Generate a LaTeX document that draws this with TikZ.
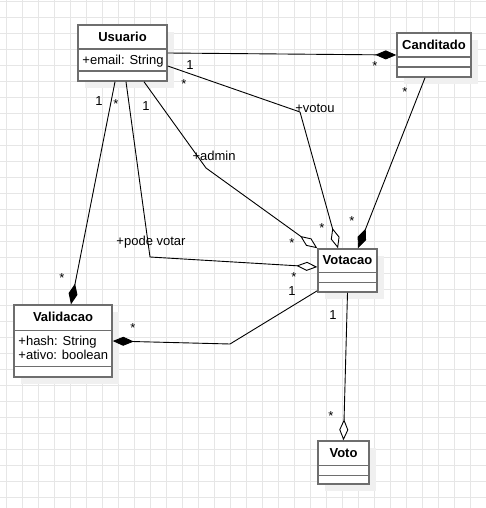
\documentclass[tikz,border=0pt]{standalone}
\usepackage{fontspec}
\setmainfont{Liberation Sans}
\usetikzlibrary{arrows.meta,shadows}
\definecolor{boxgray}{RGB}{110,110,110}
\definecolor{gridgray}{RGB}{230,230,230}
\definecolor{shadowgray}{RGB}{240,240,240}

\begin{document}
\begin{tikzpicture}[
        x=1pt, y=-1pt,
        classbox/.style={
            rectangle,
            draw=boxgray,
            line width=1.5pt,
            fill=white,
            drop shadow={shadow xshift=7pt, shadow yshift=-7pt, fill=shadowgray, opacity=1}
        },
        title/.style={
            font=\fontsize{13}{15}\selectfont\bfseries,
            inner sep=0pt
        },
        attrs/.style={
            font=\fontsize{13}{14.5}\selectfont,
            inner sep=0pt,
            align=left,
            anchor=north west
        },
        sepline/.style={
            draw=boxgray,
            line width=1.5pt
        },
        assoc/.style={
            draw=black,
            line width=0.9pt
        },
        comp/.style={
            assoc,
            -{Diamond[length=21pt,width=9pt,fill=black]}
        },
        aggr/.style={
            assoc,
            -{Diamond[length=21pt,width=9pt,fill=white]}
        },
        mult/.style={
            font=\fontsize{13}{15}\selectfont,
            inner sep=0pt,
            text height=9.3pt,
            text depth=0pt
        },
        many/.style={
            font=\fontsize{13}{15}\selectfont,
            inner sep=0pt,
            text height=9.3pt,
            text depth=-5pt
        },
        role/.style={
            font=\fontsize{13}{15}\selectfont,
            inner sep=0pt
        }
    ]

    % page and background grid
    \useasboundingbox (0,0) rectangle (486,508);
    \fill[white] (0,0) rectangle (486,508);
    \begin{scope}[shift={(6.7,1.3)}]
        \draw[gridgray, line width=0.8pt, step=16pt] (-6.7,506.7) grid (479.3,-1.3);
    \end{scope}

    % classes
    \node[classbox, minimum width=89pt, minimum height=56pt] (usuario) at (122.5,53) {};
    \node[classbox, minimum width=74pt, minimum height=44pt] (canditado) at (434,55) {};
    \node[classbox, minimum width=98pt, minimum height=72pt] (validacao) at (63,341) {};
    \node[classbox, minimum width=59pt, minimum height=43pt] (votacao) at (347.5,270.5) {};
    \node[classbox, minimum width=51pt, minimum height=43pt] (voto) at (343.5,462.5) {};

    % class names and attributes
    \node[title] (usuariotitle) at ([yshift=-12.5pt]usuario.north) {Usuario};
    \node[title] (canditadotitle) at ([yshift=-12.5pt]canditado.north) {Canditado};
    \node[title] (validacaotitle) at ([yshift=-13pt]validacao.north) {Validacao};
    \node[title] (votacaotitle) at ([yshift=-12pt]votacao.north) {Votacao};
    \node[title] (vototitle) at ([yshift=-12.5pt]voto.north) {Voto};
    \node[attrs] (usuarioattr) at ([xshift=5pt,yshift=-31pt]usuario.north west) {+email: String};
    \node[attrs] (validacaoattr) at ([xshift=5pt,yshift=-31.5pt]validacao.north west) {+hash: String\\+ativo: boolean};

    % compartment lines
    \draw[sepline] ([yshift=-25pt]usuario.north west) -- ([yshift=-25pt]usuario.north east);
    \draw[sepline] ([yshift=-47pt]usuario.north west) -- ([yshift=-47pt]usuario.north east);
    \draw[sepline] ([yshift=-25pt]canditado.north west) -- ([yshift=-25pt]canditado.north east);
    \draw[sepline] ([yshift=-35pt]canditado.north west) -- ([yshift=-35pt]canditado.north east);
    \draw[sepline] ([yshift=-26pt]validacao.north west) -- ([yshift=-26pt]validacao.north east);
    \draw[sepline] ([yshift=-62pt]validacao.north west) -- ([yshift=-62pt]validacao.north east);
    \draw[sepline] ([yshift=-24pt]votacao.north west) -- ([yshift=-24pt]votacao.north east);
    \draw[sepline] ([yshift=-34pt]votacao.north west) -- ([yshift=-34pt]votacao.north east);
    \draw[sepline] ([yshift=-25pt]voto.north west) -- ([yshift=-25pt]voto.north east);
    \draw[sepline] ([yshift=-35pt]voto.north west) -- ([yshift=-35pt]voto.north east);

    % associations
    \draw[comp] (usuario.east) -- (canditado.west);
    \draw[aggr] ([yshift=-13pt]usuario.east) -- (300,112) -- ([xshift=-9.5pt]votacao.north);
    \draw[aggr] ([xshift=21.5pt]usuario.south) -- (206,168) -- (votacao.north west);
    \draw[aggr] ([xshift=3.5pt]usuario.south) -- (150,257) -- ([yshift=3.5pt]votacao.west);
    \draw[comp] ([xshift=-7.5pt]usuario.south) -- ([xshift=8pt]validacao.north);
    \draw[comp] ([yshift=2pt]votacao.south west) -- (230,344) -- (validacao.east);
    \draw[aggr] (votacao.south) -- (voto.north);
    \draw[comp] ([xshift=-9pt]canditado.south) -- ([xshift=10.5pt]votacao.north);

    % roles and multiplicities
    \node[mult] (m1) at (190,65) {1};
    \node[many] (m2) at (375,66) {*};
    \node[many] (m3) at (184,84) {*};
    \node[role] (votou) at (315,108) {+votou};
    \node[many] (m4) at (322,228) {*};
    \node[mult] (m5) at (146,106) {1};
    \node[role] (admin) at (214,156) {+admin};
    \node[many] (m6) at (292,243) {*};
    \node[many] (m7) at (116,104) {*};
    \node[mult] (m8) at (99,101) {1};
    \node[role] (podevotar) at (151,242) {+pode votar};
    \node[many] (m9) at (294,277) {*};
    \node[many] (m10) at (62,278) {*};
    \node[many] (m11) at (133,328) {*};
    \node[mult] (m12) at (292,291) {1};
    \node[mult] (m13) at (333,315) {1};
    \node[many] (m14) at (331,416) {*};
    \node[many] (m15) at (405,92) {*};
    \node[many] (m16) at (352,221) {*};

\end{tikzpicture}
\end{document}
